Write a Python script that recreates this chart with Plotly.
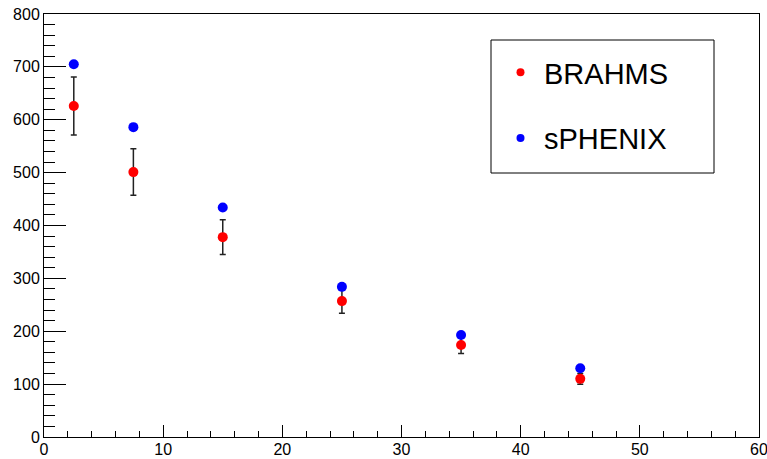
import plotly.graph_objects as go

x_vals = [2.5, 7.5, 15, 25, 35, 45]
brahms_y = [626, 501, 378, 257, 174, 110]
brahms_err = [55, 44, 33, 23, 16, 10]
sphenix_y = [705, 586, 434, 284, 193, 130]

x_ticks = [0, 10, 20, 30, 40, 50, 60]
y_ticks = [0, 100, 200, 300, 400, 500, 600, 700, 800]

FONT = "Liberation Sans, Arial, sans-serif"

PW, PH = 715, 423  # plot area size in px

fig = go.Figure()
fig.add_trace(go.Scatter(
    x=x_vals, y=brahms_y, mode="markers", name="BRAHMS", showlegend=False,
    marker=dict(color="#ff0000", size=10),
    error_y=dict(type="data", array=brahms_err, color="#222222", thickness=1.5, width=3),
))
fig.add_trace(go.Scatter(
    x=x_vals, y=sphenix_y, mode="markers", name="sPHENIX", showlegend=False,
    marker=dict(color="#0000ff", size=10),
))
# legend entries
fig.add_trace(go.Scatter(x=[None], y=[None], mode="markers", name="BRAHMS",
                         legendgroup="a", marker=dict(color="#ff0000", size=8)))
fig.add_trace(go.Scatter(x=[None], y=[None], mode="markers", name="sPHENIX",
                         legendgroup="b", marker=dict(color="#0000ff", size=8)))

fig.update_layout(
    width=767, height=459,
    margin=dict(l=44, r=8, t=14, b=22, autoexpand=False),
    paper_bgcolor="white", plot_bgcolor="white",
    font=dict(family=FONT, color="black", size=16),
    legend=dict(
        x=(497 - 44) / PW, y=(437 - 47) / PH, xanchor="left", yanchor="top",
        bgcolor="rgba(0,0,0,0)", borderwidth=0, itemwidth=37,
        font=dict(family=FONT, size=29, color="black"),
        traceorder="grouped", tracegroupgap=25,
    ),
    shapes=[dict(type="rect", xref="paper", yref="paper",
                 x0=(491 - 44) / PW, x1=(714 - 44) / PW,
                 y0=(437 - 173) / PH, y1=(437 - 40) / PH,
                 line=dict(color="black", width=1), fillcolor="rgba(0,0,0,0)", layer="above")],
)
fig.update_xaxes(
    range=[0, 60], tickvals=x_ticks, ticktext=[str(v) for v in x_ticks],
    automargin=False, ticklabeloverflow="allow", ticklabelstandoff=-2,
    showgrid=False, zeroline=False, showline=True, mirror=True,
    linecolor="black", linewidth=1,
    ticks="inside", ticklen=12, tickcolor="black", tickwidth=1,
    minor=dict(ticks="inside", ticklen=6, dtick=2, tickcolor="black", showgrid=False),
    tickfont=dict(size=16, family=FONT),
)
fig.update_yaxes(
    range=[0, 800], tickvals=y_ticks, ticktext=[str(v) for v in y_ticks],
    automargin=False, ticklabeloverflow="allow",
    showgrid=False, zeroline=False, showline=True, mirror=True,
    linecolor="black", linewidth=1,
    ticks="inside", ticklen=22, tickcolor="black", tickwidth=1,
    minor=dict(ticks="inside", ticklen=11, dtick=20, tickcolor="black", showgrid=False),
    tickfont=dict(size=16, family=FONT),
)
fig.write_html("out.html", config={"displayModeBar": False},
               post_script="document.body.style.margin='0';")
